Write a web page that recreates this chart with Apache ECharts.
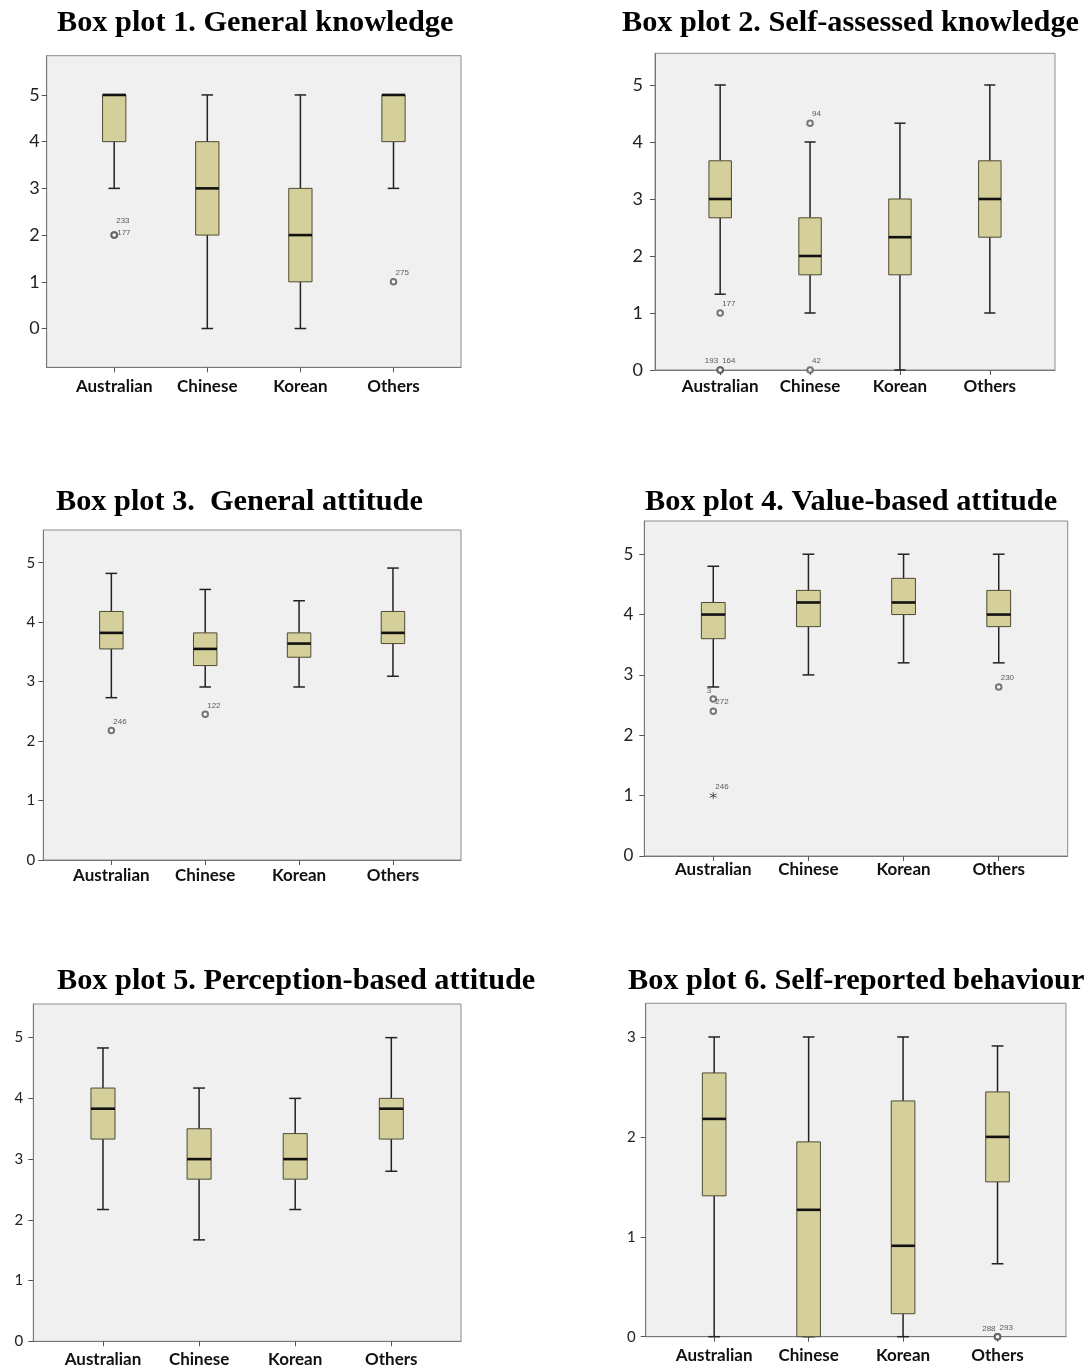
<!DOCTYPE html>
<html>
<head>
<meta charset="utf-8">
<title>Box plots by group</title>
<script src="https://cdn.jsdelivr.net/npm/echarts@6/dist/echarts.min.js"></script>
<style>
  html, body { margin: 0; padding: 0; background: #ffffff; }
  #chart { width: 1091px; height: 1371px; }
</style>
</head>
<body>
<div id="chart"></div>
<script>
// ---------- data ----------
const groups = ['Australian', 'Chinese', 'Korean', 'Others'];

// Each row: [lower whisker, Q1, median, Q3, upper whisker], one row per group
const generalKnowledge = [[3, 4, 5, 5, 5], [0, 2, 3, 4, 5], [0, 1, 2, 3, 5], [3, 4, 5, 5, 5]];
const selfAssessedKnowledge = [[1.33, 2.67, 3, 3.67, 5], [1, 1.67, 2, 2.67, 4], [0, 1.67, 2.33, 3, 4.33], [1, 2.33, 3, 3.67, 5]];
const generalAttitude = [[2.73, 3.55, 3.82, 4.18, 4.82], [2.91, 3.27, 3.55, 3.82, 4.55], [2.91, 3.41, 3.64, 3.82, 4.36], [3.09, 3.64, 3.82, 4.18, 4.91]];
const valueAttitude = [[2.8, 3.6, 4.0, 4.2, 4.8], [3.0, 3.8, 4.2, 4.4, 5.0], [3.2, 4.0, 4.2, 4.6, 5.0], [3.2, 3.8, 4.0, 4.4, 5.0]];
const perceptionAttitude = [[2.17, 3.33, 3.83, 4.17, 4.83], [1.67, 2.67, 3.0, 3.5, 4.17], [2.17, 2.67, 3.0, 3.42, 4.0], [2.8, 3.33, 3.83, 4.0, 5.0]];
const reportedBehaviour = [[0, 1.41, 2.18, 2.64, 3.0], [0, 0, 1.27, 1.95, 3.0], [0, 0.23, 0.91, 2.36, 3.0], [0.73, 1.55, 2.0, 2.45, 2.91]];

// Outlying cases: [group index, value, case id, kind] ('o' outlier, '*' extreme)
const generalKnowledgeOut = [[0, 2, '177', 'o'], [0, 2, '233', 'o'], [3, 1, '275', 'o']];
const selfAssessedKnowledgeOut = [[0, 1, '177', 'o'], [0, 0, '193', 'o'], [0, 0, '164', 'o'], [1, 4.33, '94', 'o'], [1, 0, '42', 'o']];
const generalAttitudeOut = [[0, 2.18, '246', 'o'], [1, 2.45, '122', 'o']];
const valueAttitudeOut = [[0, 2.6, '3', 'o'], [0, 2.4, '272', 'o'], [0, 1, '246', '*'], [3, 2.8, '230', 'o']];
const perceptionAttitudeOut = [];
const reportedBehaviourOut = [[3, 0, '288', 'o'], [3, 0, '293', 'o']];

const scoreTicks = [0, 1, 2, 3, 4, 5];
const behaviourTicks = [0, 1, 2, 3];

const titles = [
  'Box plot 1. General knowledge',
  'Box plot 2. Self-assessed knowledge',
  'Box plot 3.  General attitude',
  'Box plot 4. Value-based attitude',
  'Box plot 5. Perception-based attitude',
  'Box plot 6. Self-reported behaviour'
];
const panelStats = [generalKnowledge, selfAssessedKnowledge, generalAttitude, valueAttitude, perceptionAttitude, reportedBehaviour];
const panelOutliers = [generalKnowledgeOut, selfAssessedKnowledgeOut, generalAttitudeOut, valueAttitudeOut, perceptionAttitudeOut, reportedBehaviourOut];
const panelTicks = [scoreTicks, scoreTicks, scoreTicks, scoreTicks, scoreTicks, behaviourTicks];

// ---------- layout ----------
// plot frames in pixels, value range of each y axis, font sizes and label gaps
const frames = [
  { left: 46.7, top: 55.7, width: 414.3, height: 311.6, yMin: -0.83, yMax: 5.84, yFont: 18, yGap: 7, xGap: 11, titleLeft: 57, titleTop: 8 },
  { left: 655, top: 53.3, width: 400, height: 316.7, yMin: 0, yMax: 5.556, yFont: 18, yGap: 12, xGap: 8, titleLeft: 622, titleTop: 8 },
  { left: 43.3, top: 530, width: 417.7, height: 330, yMin: 0, yMax: 5.55, yFont: 15, yGap: 8, xGap: 7, titleLeft: 56, titleTop: 487 },
  { left: 644.3, top: 521, width: 423.4, height: 335, yMin: 0, yMax: 5.55, yFont: 17, yGap: 11, xGap: 5, titleLeft: 645, titleTop: 487 },
  { left: 33.3, top: 1004, width: 427.7, height: 337.3, yMin: 0, yMax: 5.554, yFont: 15, yGap: 10, xGap: 10, titleLeft: 57, titleTop: 966 },
  { left: 645.7, top: 1003.3, width: 420.3, height: 333.4, yMin: 0, yMax: 3.337, yFont: 15, yGap: 10, xGap: 10, titleLeft: 628, titleTop: 966 }
];
const sidePad = 0.725; // space left/right of the outer groups, in group steps

// label nudges for case ids: [dx, dy, align]
const idNudge = {
  '0:177': [3, 2, 'left'], '0:233': [2, -10, 'left'],
  '1:193': [-2, -5, 'right'],
  '3:3': [-2, -4, 'right'],
  '5:288': [-2, -4, 'right']
};

const starPath = 'path://M5,0L5,10M0.7,2.5L9.3,7.5M0.7,7.5L9.3,2.5';

function renderBox(params, api) {
  const k = api.value(0);
  const pts = [1, 2, 3, 4, 5].map(function (d) { return api.coord([k, api.value(d)]); });
  const lo = pts[0][1], q1 = pts[1][1], md = pts[2][1], q3 = pts[3][1], hi = pts[4][1];
  const x = pts[0][0];
  const step = api.size([1, 0])[0];
  const half = step * 0.125;
  const cap = step * 0.062;
  const whisk = { stroke: '#222222', lineWidth: 1.5 };
  function seg(x1, y1, x2, y2, style) {
    return { type: 'line', shape: { x1: x1, y1: y1, x2: x2, y2: y2 }, style: style };
  }
  return {
    type: 'group',
    children: [
      seg(x, hi, x, q3, whisk),
      seg(x, q1, x, lo, whisk),
      seg(x - cap, hi, x + cap, hi, whisk),
      seg(x - cap, lo, x + cap, lo, whisk),
      { type: 'rect', shape: { x: x - half, y: q3, width: half * 2, height: q1 - q3 },
        style: { fill: '#d4cf9b', stroke: '#4e4b33', lineWidth: 1 } },
      seg(x - half, md, x + half, md, { stroke: '#111111', lineWidth: 2.6 })
    ]
  };
}

const option = {
  backgroundColor: '#ffffff',
  animation: false,
  title: [], grid: [], xAxis: [], yAxis: [], series: []
};

frames.forEach(function (f, i) {
  option.title.push({
    text: titles[i], left: f.titleLeft, top: f.titleTop, padding: 0,
    textStyle: { fontFamily: 'Liberation Serif', fontWeight: 'bold', fontSize: 30.3, color: '#000' }
  });
  option.grid.push({
    left: f.left, top: f.top, width: f.width, height: f.height,
    show: true, backgroundColor: '#f0f0f0', borderColor: '#8c8c8c', borderWidth: 1
  });
  option.xAxis.push({
    gridIndex: i, type: 'value', min: -sidePad, max: groups.length - 1 + sidePad,
    axisLine: { show: true, onZero: false, lineStyle: { color: '#777', width: 1 } },
    axisTick: { show: true, length: 5, customValues: [0, 1, 2, 3], lineStyle: { color: '#555' } },
    axisLabel: {
      customValues: [0, 1, 2, 3], margin: f.xGap,
      formatter: function (v) { return groups[Math.round(v)]; },
      fontFamily: 'Lato', fontWeight: 'bold', fontSize: 17, color: '#111'
    },
    splitLine: { show: false }
  });
  option.yAxis.push({
    gridIndex: i, type: 'value', min: f.yMin, max: f.yMax,
    axisLine: { show: true, onZero: false, lineStyle: { color: '#777', width: 1 } },
    axisTick: { show: true, length: 5, customValues: panelTicks[i], lineStyle: { color: '#555' } },
    axisLabel: {
      customValues: panelTicks[i], margin: f.yGap,
      fontFamily: 'Lato', fontSize: f.yFont, color: '#222'
    },
    splitLine: { show: false }
  });
  option.series.push({
    type: 'custom', xAxisIndex: i, yAxisIndex: i, clip: false,
    data: panelStats[i].map(function (s, k) { return [k].concat(s); }),
    encode: { x: 0, y: [1, 2, 3, 4, 5] },
    renderItem: renderBox
  });
  option.series.push({
    type: 'scatter', xAxisIndex: i, yAxisIndex: i, clip: false, z: 5,
    data: panelOutliers[i].map(function (o) {
      const n = idNudge[i + ':' + o[2]] || [2, -5, 'left'];
      const extreme = o[3] === '*';
      return {
        value: [o[0], o[1]],
        symbol: extreme ? starPath : 'emptyCircle',
        symbolSize: extreme ? 7 : 5.5,
        itemStyle: extreme
          ? { color: 'rgba(0,0,0,0)', borderColor: '#333', borderWidth: 1 }
          : { color: '#555', borderColor: '#555', borderWidth: 0.8 },
        label: {
          show: true, formatter: o[2], position: 'inside',
          align: n[2], verticalAlign: 'bottom', offset: [n[0], n[1]],
          fontFamily: 'Liberation Sans', fontSize: 8, color: '#333'
        }
      };
    })
  });
});

const chart = echarts.init(document.getElementById('chart'), null, { renderer: 'canvas' });
chart.setOption(option);
</script>
</body>
</html>
